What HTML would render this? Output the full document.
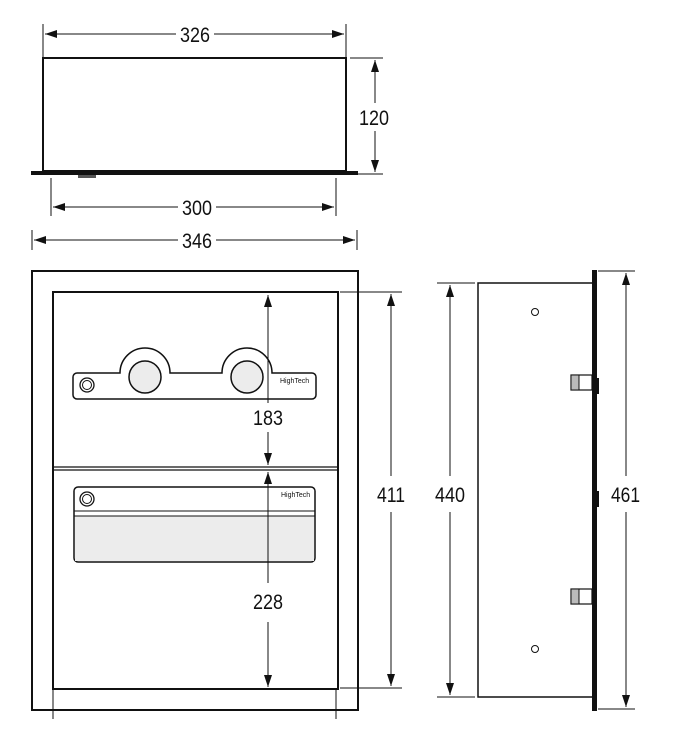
<!DOCTYPE html>
<html><head><meta charset="utf-8"><style>
html,body{margin:0;padding:0;background:#fff;width:681px;height:742px;overflow:hidden}
text{font-family:"Liberation Sans Narrow","Liberation Sans",sans-serif;font-size:21px;fill:#111}
</style></head><body>
<svg width="681" height="742" viewBox="0 0 681 742" xmlns="http://www.w3.org/2000/svg">
<defs>
<marker id="a" markerWidth="12" markerHeight="8" refX="12" refY="4" orient="auto-start-reverse" markerUnits="userSpaceOnUse">
<path d="M0,0 L12,4 L0,8 Z" fill="#111"/></marker>
</defs>
<g stroke="#111" fill="none">
<rect x="43" y="58" width="303" height="113" stroke-width="2"/>
<rect x="31" y="171" width="327" height="4" fill="#111" stroke="none"/>
<rect x="78" y="175" width="18" height="3" fill="#555" stroke="none"/>
<g stroke-width="1">
<line x1="43" y1="24" x2="43" y2="57"/><line x1="346" y1="24" x2="346" y2="57"/>
<line x1="45" y1="34" x2="176" y2="34" marker-start="url(#a)"/><line x1="214" y1="34" x2="344" y2="34" marker-end="url(#a)"/>
<line x1="350" y1="58" x2="383" y2="58"/><line x1="350" y1="174" x2="383" y2="174"/>
<line x1="375" y1="60" x2="375" y2="103" marker-start="url(#a)"/><line x1="375" y1="131" x2="375" y2="172" marker-end="url(#a)"/>
<line x1="51" y1="178" x2="51" y2="216"/><line x1="336" y1="178" x2="336" y2="216"/>
<line x1="53" y1="207" x2="178" y2="207" marker-start="url(#a)"/><line x1="216" y1="207" x2="334" y2="207" marker-end="url(#a)"/>
<line x1="32" y1="230" x2="32" y2="250"/><line x1="357" y1="230" x2="357" y2="250"/>
<line x1="34" y1="240" x2="178" y2="240" marker-start="url(#a)"/><line x1="216" y1="240" x2="355" y2="240" marker-end="url(#a)"/>
</g>
<rect x="32" y="271" width="326" height="439" stroke-width="2"/>
<rect x="53" y="292" width="285" height="397" stroke-width="2"/>
<line x1="53" y1="467" x2="338" y2="467" stroke-width="1.2"/><line x1="53" y1="470" x2="338" y2="470" stroke-width="1.2"/>
<path d="M77,373 H120 A25,25 0 0 1 170,373 H222 A25,25 0 0 1 272,373 H312 a4,4 0 0 1 4,4 V395 a4,4 0 0 1 -4,4 H77 a4,4 0 0 1 -4,-4 V377 a4,4 0 0 1 4,-4 Z" stroke-width="1.5" fill="#fff"/>
<circle cx="145" cy="377" r="16" fill="#ececec" stroke-width="1.5"/>
<circle cx="247" cy="377" r="16" fill="#ececec" stroke-width="1.5"/>
<circle cx="87" cy="385" r="7" stroke-width="1.3"/><circle cx="87" cy="385" r="4.5" stroke-width="1"/>
<rect x="74" y="487" width="241" height="75" rx="4" stroke-width="1.5" fill="#fff"/>
<rect x="75" y="516" width="239" height="45" fill="#ececec" stroke="none"/>
<line x1="74" y1="511" x2="315" y2="511" stroke-width="1"/><line x1="74" y1="516" x2="315" y2="516" stroke-width="1"/>
<circle cx="87" cy="499" r="7" stroke-width="1.3"/><circle cx="87" cy="499" r="4.5" stroke-width="1"/>
<g stroke-width="1">
<line x1="268" y1="295" x2="268" y2="403" marker-start="url(#a)"/><line x1="268" y1="432" x2="268" y2="465" marker-end="url(#a)"/>
<line x1="268" y1="472" x2="268" y2="583" marker-start="url(#a)"/><line x1="268" y1="622" x2="268" y2="687" marker-end="url(#a)"/>
<line x1="340" y1="292" x2="402" y2="292"/><line x1="340" y1="688" x2="402" y2="688"/>
<line x1="391" y1="294" x2="391" y2="476" marker-start="url(#a)"/><line x1="391" y1="512" x2="391" y2="686" marker-end="url(#a)"/>
<line x1="53" y1="690" x2="53" y2="719"/><line x1="336" y1="690" x2="336" y2="719"/>
</g>
<rect x="478" y="283" width="115" height="414" stroke-width="1.5"/>
<rect x="592" y="270" width="5" height="441" fill="#111" stroke="none"/>
<rect x="596" y="378" width="3" height="16" fill="#111" stroke="none"/>
<rect x="596" y="491" width="3" height="16" fill="#111" stroke="none"/>
<circle cx="535" cy="312" r="3.5" stroke-width="1"/><circle cx="535" cy="649" r="3.5" stroke-width="1"/>
<rect x="571" y="375" width="21" height="15" fill="#fff" stroke-width="1.2"/><rect x="571" y="375" width="8" height="15" fill="#bbb" stroke-width="1"/>
<rect x="571" y="589" width="21" height="15" fill="#fff" stroke-width="1.2"/><rect x="571" y="589" width="8" height="15" fill="#bbb" stroke-width="1"/>
<g stroke-width="1">
<line x1="437" y1="283" x2="475" y2="283"/><line x1="437" y1="697" x2="475" y2="697"/>
<line x1="450" y1="285" x2="450" y2="476" marker-start="url(#a)"/><line x1="450" y1="512" x2="450" y2="695" marker-end="url(#a)"/>
<line x1="598" y1="271" x2="635" y2="271"/><line x1="598" y1="709" x2="635" y2="709"/>
<line x1="626" y1="273" x2="626" y2="476" marker-start="url(#a)"/><line x1="626" y1="512" x2="626" y2="707" marker-end="url(#a)"/>
</g>
</g>
<text x="180" y="42" textLength="30" lengthAdjust="spacingAndGlyphs">326</text>
<text x="359" y="125" textLength="30" lengthAdjust="spacingAndGlyphs">120</text>
<text x="182" y="215" textLength="30" lengthAdjust="spacingAndGlyphs">300</text>
<text x="182" y="248" textLength="30" lengthAdjust="spacingAndGlyphs">346</text>
<text x="253" y="425" textLength="30" lengthAdjust="spacingAndGlyphs">183</text>
<text x="253" y="609" textLength="30" lengthAdjust="spacingAndGlyphs">228</text>
<text x="377" y="502" textLength="28" lengthAdjust="spacingAndGlyphs">411</text>
<text x="435" y="502" textLength="30" lengthAdjust="spacingAndGlyphs">440</text>
<text x="611" y="502" textLength="29" lengthAdjust="spacingAndGlyphs">461</text>
<text x="280" y="383" style="font-size:7px">HighTech</text>
<text x="281" y="497" style="font-size:7px">HighTech</text>
</svg>
</body></html>
